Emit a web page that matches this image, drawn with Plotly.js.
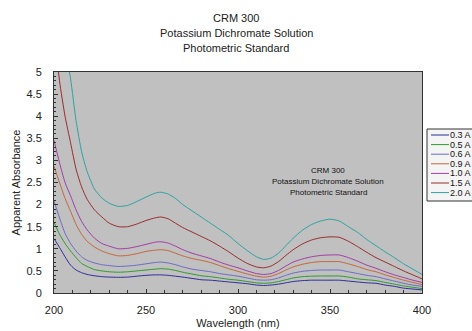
<!DOCTYPE html>
<html>
<head>
<meta charset="utf-8">
<script src="https://cdn.plot.ly/plotly-3.0.1.min.js"></script>
<style>html,body{margin:0;padding:0;background:#fff;}#chart{width:472px;height:331px;}</style>
</head>
<body>
<div id="chart"></div>
<script>
// Wavelength grid (nm)
const wavelength = [200,203,206,209,212,215,218,222,226,230,235,240,245,250,255,258,262,266,270,275,280,285,290,295,300,305,310,314,318,322,326,330,335,340,345,350,355,360,365,370,375,380,385,390,395,400];

const seriesLabels = ["0.3 A","0.5 A","0.6 A","0.9 A","1.0 A","1.5 A","2.0 A"];
const seriesColors = ["#2c2c9c","#2e9a2e","#6b6bc6","#c6653c","#a43ca4","#9a2c2c","#2ea2a2"];

const abs03 = [1.23,1.03,0.82,0.63,0.52,0.46,0.42,0.39,0.37,0.36,0.355,0.36,0.38,0.40,0.41,0.41,0.40,0.38,0.36,0.33,0.30,0.29,0.27,0.25,0.23,0.21,0.18,0.17,0.18,0.20,0.23,0.26,0.28,0.29,0.29,0.29,0.29,0.27,0.25,0.23,0.22,0.18,0.15,0.11,0.09,0.07];
const abs05 = [1.60,1.33,1.12,0.95,0.80,0.67,0.60,0.53,0.50,0.48,0.47,0.48,0.50,0.52,0.54,0.55,0.54,0.51,0.47,0.43,0.39,0.37,0.34,0.31,0.29,0.26,0.23,0.22,0.23,0.26,0.30,0.34,0.37,0.38,0.385,0.385,0.385,0.36,0.32,0.30,0.28,0.24,0.20,0.16,0.13,0.10];
const abs06 = [2.08,1.70,1.35,1.12,0.95,0.82,0.74,0.68,0.64,0.62,0.60,0.61,0.63,0.66,0.69,0.70,0.68,0.64,0.59,0.54,0.51,0.48,0.44,0.41,0.38,0.34,0.30,0.29,0.30,0.34,0.40,0.45,0.49,0.51,0.52,0.52,0.52,0.48,0.44,0.40,0.37,0.32,0.27,0.22,0.18,0.15];
const abs09 = [2.87,2.50,2.14,1.85,1.55,1.33,1.17,1.04,0.95,0.89,0.84,0.85,0.89,0.94,0.97,0.98,0.96,0.90,0.84,0.78,0.74,0.69,0.62,0.55,0.49,0.43,0.38,0.36,0.38,0.44,0.52,0.59,0.65,0.69,0.71,0.71,0.71,0.66,0.60,0.53,0.48,0.41,0.35,0.29,0.24,0.19];
const abs10 = [3.45,2.95,2.50,2.20,1.88,1.62,1.43,1.24,1.12,1.06,1.00,1.01,1.05,1.10,1.15,1.16,1.13,1.06,0.98,0.90,0.84,0.78,0.70,0.63,0.57,0.50,0.44,0.42,0.44,0.51,0.61,0.70,0.77,0.82,0.85,0.86,0.86,0.80,0.72,0.63,0.56,0.48,0.41,0.35,0.29,0.24];
const abs15 = [6.00,4.80,4.00,3.40,2.80,2.40,2.12,1.88,1.72,1.58,1.50,1.50,1.56,1.64,1.70,1.72,1.68,1.58,1.48,1.38,1.28,1.18,1.06,0.93,0.79,0.67,0.59,0.57,0.61,0.71,0.85,0.98,1.11,1.20,1.25,1.27,1.26,1.17,1.05,0.92,0.80,0.70,0.60,0.50,0.41,0.32];
const abs20 = [7.80,6.60,5.60,4.85,3.90,3.20,2.75,2.35,2.15,2.03,1.96,1.98,2.07,2.17,2.26,2.28,2.24,2.14,2.00,1.86,1.72,1.58,1.44,1.30,1.12,0.96,0.82,0.76,0.79,0.90,1.07,1.24,1.42,1.55,1.63,1.67,1.63,1.50,1.37,1.21,1.07,0.93,0.80,0.66,0.54,0.42];

const seriesValues = [abs03, abs05, abs06, abs09, abs10, abs15, abs20];

const titleLines = ["CRM 300","Potassium Dichromate Solution","Photometric Standard"];

const traces = seriesValues.map((vals, i) => ({
  type: "scatter",
  mode: "lines",
  x: wavelength,
  y: vals,
  name: seriesLabels[i],
  line: {color: seriesColors[i], width: 1, shape: "spline", smoothing: 0.6},
  showlegend: false,
  cliponaxis: true
}));

const FONT = "Liberation Sans, Arial, sans-serif";

// Plot area in pixels
const W = 472, H = 331, L = 54, R = 50, T = 72, B = 38;
const plotW = W - L - R, plotH = H - T - B;
const px = (x) => (x - L) / plotW;
const py = (y) => (H - B - y) / plotH;

const shapes = [];
const annotations = [];

// Chart title (3 lines)
titleLines.forEach((t, i) => {
  annotations.push({
    xref: "paper", yref: "paper",
    x: px(236), y: py(18 + i * 15),
    text: t, showarrow: false, xanchor: "center", yanchor: "middle",
    font: {family: FONT, size: 11, color: "#222"}
  });
});

// In-plot annotation (3 lines)
titleLines.forEach((t, i) => {
  annotations.push({
    xref: "paper", yref: "paper",
    x: px(328), y: py(170 + i * 11),
    text: t, showarrow: false, xanchor: "center", yanchor: "middle",
    font: {family: FONT, size: 8, color: "#111"}
  });
});

// Compact legend
const legLeft = 427, legTop = 129, rowH = 9.6;
shapes.push({
  type: "rect", xref: "paper", yref: "paper",
  x0: px(legLeft), x1: px(480),
  y0: py(legTop + 72), y1: py(legTop),
  line: {color: "#333", width: 1}, fillcolor: "#f4f4f4", layer: "above"
});
seriesLabels.forEach((lab, i) => {
  const yy = py(legTop + 6 + i * rowH);
  shapes.push({
    type: "line", xref: "paper", yref: "paper",
    x0: px(431), x1: px(449), y0: yy, y1: yy,
    line: {color: seriesColors[i], width: 1}, layer: "above"
  });
  annotations.push({
    xref: "paper", yref: "paper", x: px(448), y: yy,
    text: lab, showarrow: false, xanchor: "left", yanchor: "middle",
    font: {family: FONT, size: 9, color: "#111"}
  });
});

const layout = {
  width: W, height: H,
  margin: {l: L, r: R, t: T, b: B, pad: 0},
  paper_bgcolor: "#ffffff",
  plot_bgcolor: "#c0c0c0",
  showlegend: false,
  xaxis: {
    range: [200, 400], dtick: 50, tick0: 200,
    ticks: "inside", ticklen: 4, tickcolor: "#333",
    minor: {dtick: 10, ticks: "inside", ticklen: 3, tickcolor: "#333"},
    showgrid: false, zeroline: false,
    showline: true, linecolor: "#333", linewidth: 1, mirror: true,
    tickfont: {family: FONT, size: 11, color: "#222"},
    ticklabelstandoff: 7,
    title: {text: "Wavelength (nm)", font: {family: FONT, size: 11, color: "#222"}, standoff: 4}
  },
  yaxis: {
    range: [0, 5], dtick: 0.5, tick0: 0,
    ticks: "inside", ticklen: 4, tickcolor: "#333",
    minor: {dtick: 0.1, ticks: "inside", ticklen: 2, tickcolor: "#333"},
    showgrid: false, zeroline: false,
    showline: true, linecolor: "#333", linewidth: 1, mirror: true,
    tickfont: {family: FONT, size: 11, color: "#222"},
    ticklabelstandoff: 9,
    title: {text: "Apparent Absorbance", font: {family: FONT, size: 11, color: "#222"}, standoff: 3}
  },
  shapes: shapes,
  annotations: annotations
};

Plotly.newPlot("chart", traces, layout, {staticPlot: true, displayModeBar: false});
</script>
</body>
</html>
